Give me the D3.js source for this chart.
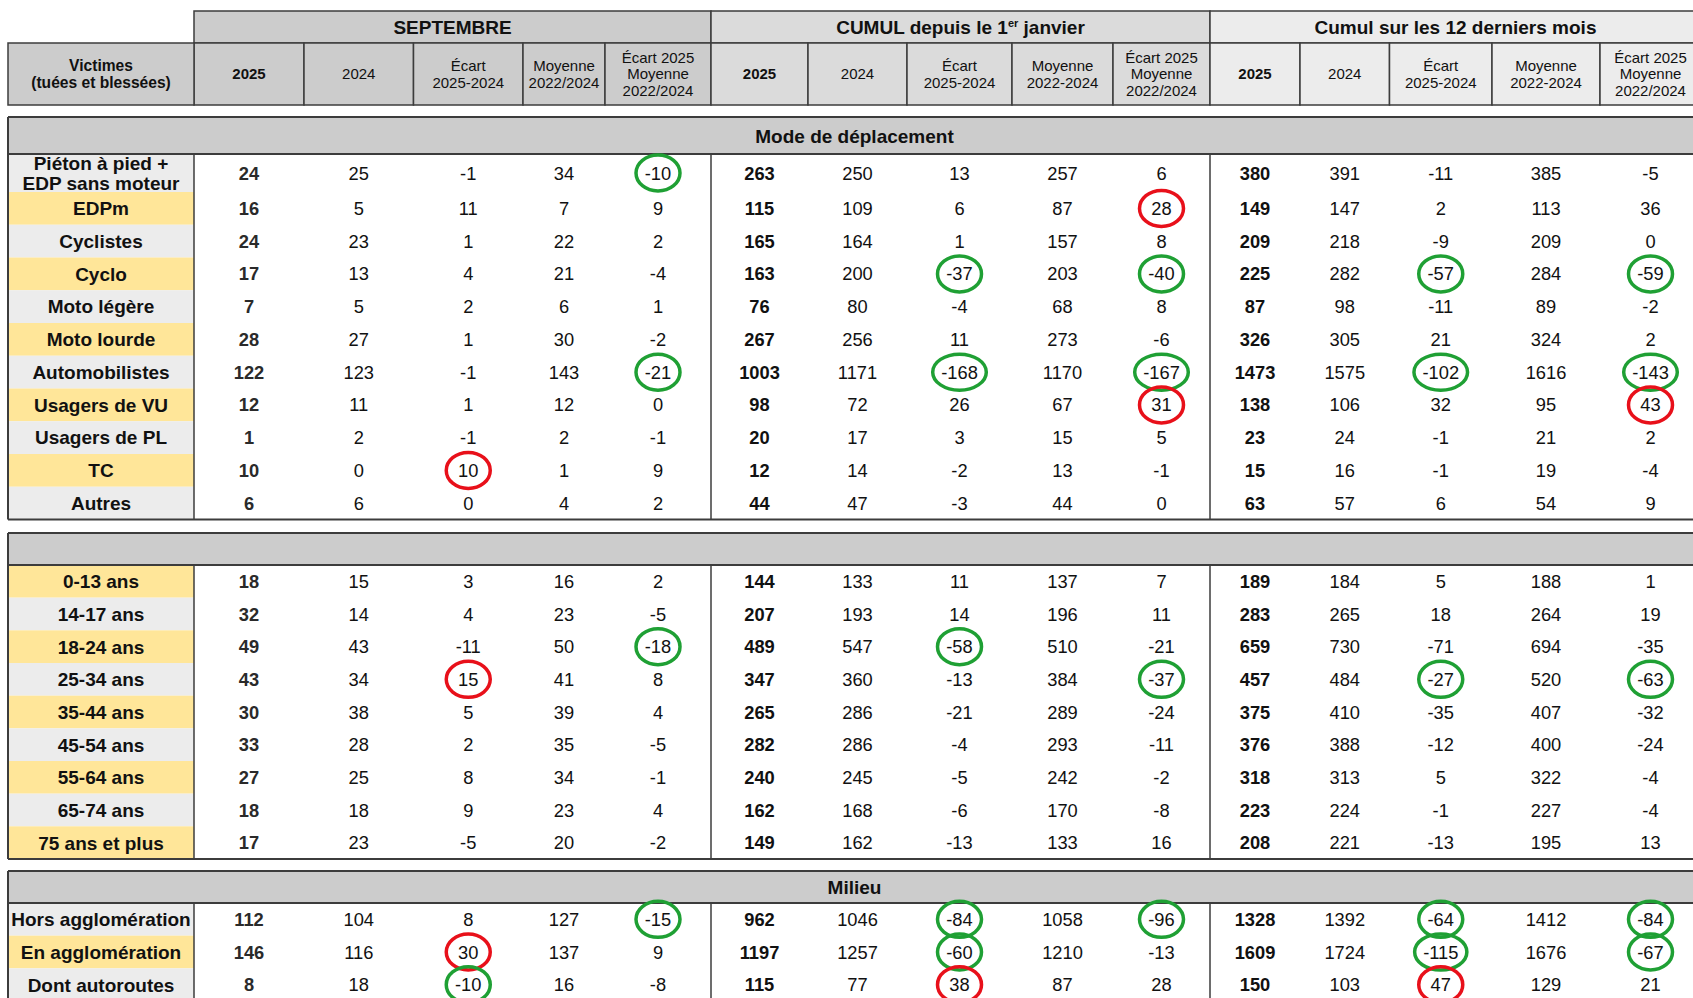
<!DOCTYPE html>
<html>
<head>
<meta charset="utf-8">
<script src="https://cdn.jsdelivr.net/npm/d3@7"></script>
<style>
  html, body { margin: 0; padding: 0; background: #fff; overflow: hidden; }
  svg { display: block; font-family: "Liberation Sans", Arial, sans-serif; }
</style>
</head>
<body>
<svg width="1693" height="998"></svg>
<script>
const groupTitles = ["SEPTEMBRE", "CUMUL depuis le 1er janvier", "Cumul sur les 12 derniers mois"];
const stubTitle = ["Victimes", "(tuées et blessées)"];
const colTitles = [
  [["2025"], ["2024"], ["Écart", "2025-2024"], ["Moyenne", "2022/2024"], ["Écart 2025", "Moyenne", "2022/2024"]],
  [["2025"], ["2024"], ["Écart", "2025-2024"], ["Moyenne", "2022-2024"], ["Écart 2025", "Moyenne", "2022/2024"]],
  [["2025"], ["2024"], ["Écart", "2025-2024"], ["Moyenne", "2022-2024"], ["Écart 2025", "Moyenne", "2022/2024"]]
];
const sectionTitles = ["Mode de déplacement", "", "Milieu"];

const modeLabels = [["Piéton à pied +", "EDP sans moteur"], ["EDPm"], ["Cyclistes"], ["Cyclo"], ["Moto légère"], ["Moto lourde"],
  ["Automobilistes"], ["Usagers de VU"], ["Usagers de PL"], ["TC"], ["Autres"]];
const modeValues = [
  [24, 25, -1, 34, -10, 263, 250, 13, 257, 6, 380, 391, -11, 385, -5],
  [16, 5, 11, 7, 9, 115, 109, 6, 87, 28, 149, 147, 2, 113, 36],
  [24, 23, 1, 22, 2, 165, 164, 1, 157, 8, 209, 218, -9, 209, 0],
  [17, 13, 4, 21, -4, 163, 200, -37, 203, -40, 225, 282, -57, 284, -59],
  [7, 5, 2, 6, 1, 76, 80, -4, 68, 8, 87, 98, -11, 89, -2],
  [28, 27, 1, 30, -2, 267, 256, 11, 273, -6, 326, 305, 21, 324, 2],
  [122, 123, -1, 143, -21, 1003, 1171, -168, 1170, -167, 1473, 1575, -102, 1616, -143],
  [12, 11, 1, 12, 0, 98, 72, 26, 67, 31, 138, 106, 32, 95, 43],
  [1, 2, -1, 2, -1, 20, 17, 3, 15, 5, 23, 24, -1, 21, 2],
  [10, 0, 10, 1, 9, 12, 14, -2, 13, -1, 15, 16, -1, 19, -4],
  [6, 6, 0, 4, 2, 44, 47, -3, 44, 0, 63, 57, 6, 54, 9]
];

const ageLabels = [["0-13 ans"], ["14-17 ans"], ["18-24 ans"], ["25-34 ans"], ["35-44 ans"], ["45-54 ans"],
  ["55-64 ans"], ["65-74 ans"], ["75 ans et plus"]];
const ageValues = [
  [18, 15, 3, 16, 2, 144, 133, 11, 137, 7, 189, 184, 5, 188, 1],
  [32, 14, 4, 23, -5, 207, 193, 14, 196, 11, 283, 265, 18, 264, 19],
  [49, 43, -11, 50, -18, 489, 547, -58, 510, -21, 659, 730, -71, 694, -35],
  [43, 34, 15, 41, 8, 347, 360, -13, 384, -37, 457, 484, -27, 520, -63],
  [30, 38, 5, 39, 4, 265, 286, -21, 289, -24, 375, 410, -35, 407, -32],
  [33, 28, 2, 35, -5, 282, 286, -4, 293, -11, 376, 388, -12, 400, -24],
  [27, 25, 8, 34, -1, 240, 245, -5, 242, -2, 318, 313, 5, 322, -4],
  [18, 18, 9, 23, 4, 162, 168, -6, 170, -8, 223, 224, -1, 227, -4],
  [17, 23, -5, 20, -2, 149, 162, -13, 133, 16, 208, 221, -13, 195, 13]
];

const milieuLabels = [["Hors agglomération"], ["En agglomération"], ["Dont autoroutes"]];
const milieuValues = [
  [112, 104, 8, 127, -15, 962, 1046, -84, 1058, -96, 1328, 1392, -64, 1412, -84],
  [146, 116, 30, 137, 9, 1197, 1257, -60, 1210, -13, 1609, 1724, -115, 1676, -67],
  [8, 18, -10, 16, -8, 115, 77, 38, 87, 28, 150, 103, 47, 129, 21]
];

// highlighted cells: [block, row, column, "good"/"bad"]
const highlights = [
  [0, 0, 4, "good"], [0, 1, 9, "bad"],
  [0, 3, 7, "good"], [0, 3, 9, "good"], [0, 3, 12, "good"], [0, 3, 14, "good"],
  [0, 6, 4, "good"], [0, 6, 7, "good"], [0, 6, 9, "good"], [0, 6, 12, "good"], [0, 6, 14, "good"],
  [0, 7, 9, "bad"], [0, 7, 14, "bad"], [0, 9, 2, "bad"],
  [1, 2, 4, "good"], [1, 2, 7, "good"],
  [1, 3, 2, "bad"], [1, 3, 9, "good"], [1, 3, 12, "good"], [1, 3, 14, "good"],
  [2, 0, 4, "good"], [2, 0, 7, "good"], [2, 0, 9, "good"], [2, 0, 12, "good"], [2, 0, 14, "good"],
  [2, 1, 2, "bad"], [2, 1, 7, "good"], [2, 1, 12, "good"], [2, 1, 14, "good"],
  [2, 2, 2, "good"], [2, 2, 7, "bad"], [2, 2, 12, "bad"]
];

// ---- layout ----
const svg = d3.select("svg");
const line = "#3c3c3c";
const edges = [8, 194, 304, 413.5, 523, 605, 711, 808, 907, 1012, 1113, 1210, 1300, 1389.5, 1492, 1600, 1701];
const left = edges[0], right = edges[edges.length - 1];
const groupFill = ["#cccccc", "#dbdbdb", "#ececec"];
const labelFill = ["#ececec", "#ffe699"];
const circleColor = { good: "#1fa034", bad: "#e8101a" };
const colX = i => (edges[i + 1] + edges[i + 2]) / 2;   // data column centre

const blocks = [
  { labels: modeLabels, values: modeValues, top: 117, headH: 37, rowTop: 154, bottom: 519.5, firstRow: 38, startFill: 0 },
  { labels: ageLabels, values: ageValues, top: 533, headH: 32, rowTop: 565, bottom: 859, firstRow: null, startFill: 1 },
  { labels: milieuLabels, values: milieuValues, top: 871, headH: 32, rowTop: 903, bottom: 1001, firstRow: null, startFill: 0 }
];

function multiline(g, lines, x, cy, size, lh, weight) {
  const t = g.append("text").attr("x", x).attr("text-anchor", "middle")
    .attr("font-size", size).attr("font-weight", weight).attr("fill", "#111");
  const y0 = cy - (lines.length - 1) * lh / 2 + size * 0.36;
  lines.forEach((s, i) => t.append("tspan").attr("x", x).attr("y", y0 + i * lh).text(s));
  return t;
}

// ---- header ----
const hTop = 11, hMid = 43, hBot = 105;
const head = svg.append("g");
groupTitles.forEach((title, gi) => {
  const x0 = edges[1 + gi * 5], x1 = edges[6 + gi * 5];
  head.append("rect").attr("x", x0).attr("y", hTop).attr("width", x1 - x0).attr("height", hMid - hTop)
    .attr("fill", groupFill[gi]).attr("stroke", line).attr("stroke-width", 1.5);
  const t = head.append("text").attr("x", (x0 + x1) / 2).attr("y", (hTop + hMid) / 2 + 7)
    .attr("text-anchor", "middle").attr("font-size", 19).attr("font-weight", "bold").attr("fill", "#111");
  const m = title.match(/^(.*1)(er)(.*)$/);
  if (m) {
    t.append("tspan").text(m[1]);
    t.append("tspan").attr("font-size", 11).attr("dy", -7).text(m[2]);
    t.append("tspan").attr("dy", 7).text(m[3]);
  } else t.text(title);
  colTitles[gi].forEach((lines, ci) => {
    const c0 = edges[1 + gi * 5 + ci], c1 = edges[2 + gi * 5 + ci];
    head.append("rect").attr("x", c0).attr("y", hMid).attr("width", c1 - c0).attr("height", hBot - hMid)
      .attr("fill", groupFill[gi]).attr("stroke", line).attr("stroke-width", 1.5);
    multiline(head, lines, (c0 + c1) / 2, (hMid + hBot) / 2, 15, 16.5, ci === 0 ? "bold" : "normal");
  });
});
head.append("rect").attr("x", left).attr("y", hMid).attr("width", edges[1] - left).attr("height", hBot - hMid)
  .attr("fill", "#cccccc").attr("stroke", line).attr("stroke-width", 1.5);
multiline(head, stubTitle, (left + edges[1]) / 2, (hMid + hBot) / 2, 15.6, 17, "bold");

// ---- body blocks ----
blocks.forEach((b, bi) => {
  const g = svg.append("g");
  const n = b.labels.length;
  const rest = b.firstRow ? n - 1 : n;
  const y = d3.scaleBand().domain(d3.range(rest))
    .range([b.firstRow ? b.rowTop + b.firstRow : b.rowTop, b.bottom]);
  const rowY0 = i => b.firstRow ? (i === 0 ? b.rowTop : y(i - 1)) : y(i);
  const rowH = i => b.firstRow && i === 0 ? b.firstRow : y.bandwidth();
  const rowC = i => rowY0(i) + rowH(i) / 2;

  // section header
  g.append("rect").attr("x", left).attr("y", b.top).attr("width", right - left).attr("height", b.headH)
    .attr("fill", "#cccccc");
  if (sectionTitles[bi]) {
    g.append("text").attr("x", (left + right) / 2).attr("y", b.top + b.headH / 2 + 7)
      .attr("text-anchor", "middle").attr("font-size", 19).attr("font-weight", "bold").attr("fill", "#111")
      .text(sectionTitles[bi]);
  }

  // label cells
  b.labels.forEach((lines, i) => {
    g.append("rect").attr("x", left).attr("y", rowY0(i)).attr("width", edges[1] - left).attr("height", rowH(i))
      .attr("fill", labelFill[(i + b.startFill) % 2]);
    multiline(g, lines, (left + edges[1]) / 2, rowC(i), 19, 19.5, "bold");
  });

  // values
  b.values.forEach((row, i) => {
    row.forEach((v, ci) => {
      g.append("text").attr("class", `v-${bi}-${i}-${ci}`)
        .attr("x", colX(ci)).attr("y", rowC(i) + 6.6).attr("text-anchor", "middle")
        .attr("font-size", 18.3).attr("font-weight", ci % 5 === 0 ? "bold" : "normal")
        .attr("fill", ci === 0 ? "#2a2a2a" : "#111").text(v);
    });
  });

  // lines
  [1, 6, 11].forEach(k => {
    g.append("line").attr("x1", edges[k]).attr("x2", edges[k]).attr("y1", b.rowTop).attr("y2", b.bottom)
      .attr("stroke", line).attr("stroke-width", 1.5);
  });
  g.append("line").attr("x1", left).attr("x2", left).attr("y1", b.top).attr("y2", b.bottom)
    .attr("stroke", line).attr("stroke-width", 2);
  [b.top, b.rowTop, b.bottom].forEach(yy => {
    g.append("line").attr("x1", left).attr("x2", right).attr("y1", yy).attr("y2", yy)
      .attr("stroke", line).attr("stroke-width", 2);
  });

  b.rowC = rowC;
});

// ---- highlight ellipses ----
const rings = svg.append("g");
highlights.forEach(([bi, ri, ci, kind]) => {
  const t = svg.select(`.v-${bi}-${ri}-${ci}`);
  const w = t.node().getComputedTextLength();
  rings.append("ellipse")
    .attr("cx", colX(ci)).attr("cy", blocks[bi].rowC(ri))
    .attr("rx", Math.max(22, w / 2 + 8.5)).attr("ry", 18)
    .attr("fill", "none").attr("stroke", circleColor[kind]).attr("stroke-width", 3.5);
});
</script>
</body>
</html>
